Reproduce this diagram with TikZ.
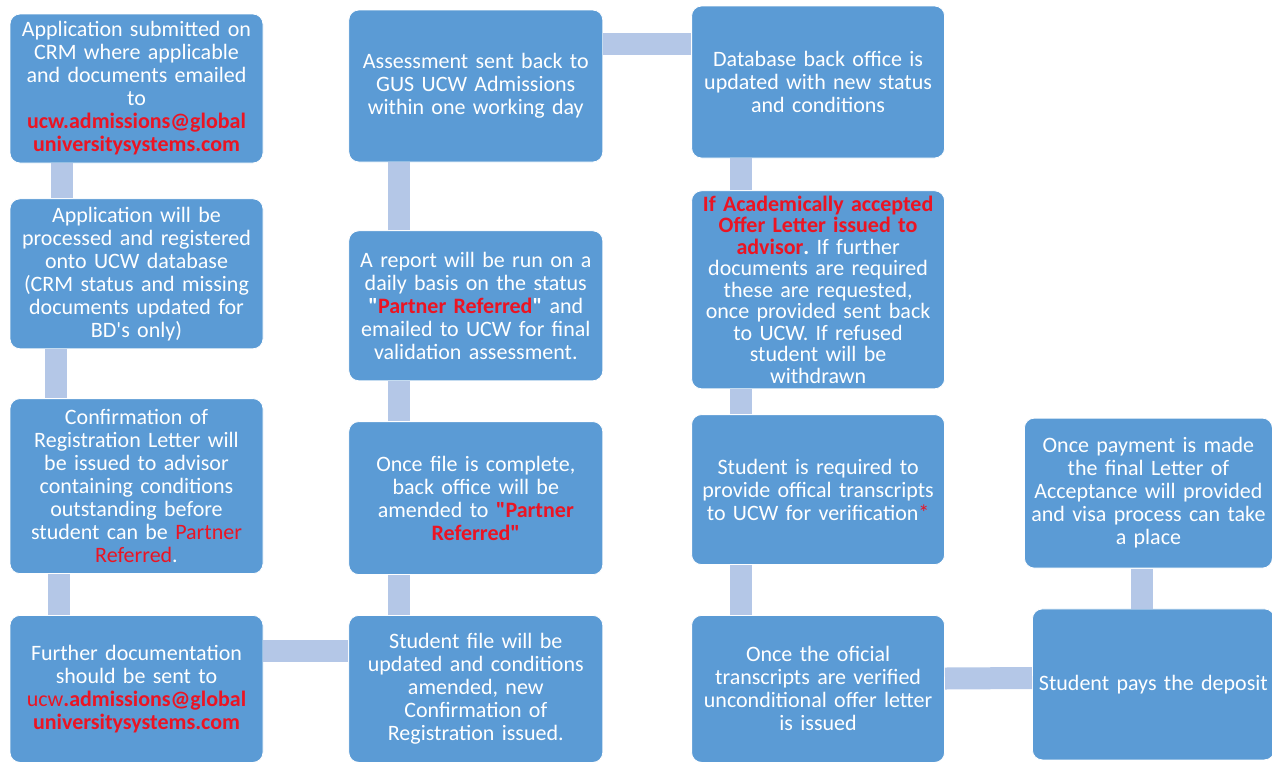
\documentclass[tikz,border=0pt]{standalone}
\usepackage{fontspec}
\setmainfont{Carlito}[Ligatures=TeXOff]
\usetikzlibrary{positioning}
\definecolor{boxblue}{RGB}{91,155,213}
\definecolor{barblue}{RGB}{180,199,231}
\definecolor{ucwred}{RGB}{235,20,35}
\newcommand{\redtxt}[1]{{\color{ucwred}#1}}

\begin{document}
\frenchspacing
\begin{tikzpicture}[x=1pt,y=1pt,
  box node/.style={rectangle,rounded corners=10pt,fill=boxblue,draw=white,line width=0.8pt,
    text=white,text width=247pt,align=center,inner sep=3pt,
    font=\fontsize{22}{23}\selectfont},
  link/.style={draw=barblue,line width=22pt}]
  \useasboundingbox (0,0) rectangle (1272,-761);

  % left column
  \node[box node,minimum height=149pt] (1) at (136.5,-88.5)
    {Application submitted on\\ CRM where applicable\\ and documents emailed\\ to\\
     {\color{ucwred}\bfseries ucw.admissions@global\\ universitysystems.com}};
  \node[box node,minimum height=150pt] (2) [below=35pt of 1]
    {Application will be\\ processed and registered\\ onto UCW database\\
     (CRM status and missing\\ documents updated for\\ BD's only)};
  \node[box node,minimum height=175pt] (3) [below=49pt of 2]
    {Confirmation of\\ Registration Letter will\\ be issued to advisor\\
     containing conditions\\ outstanding before\\ student can be \redtxt{Partner}\\
     \redtxt{Referred}.};
  \node[box node,minimum height=147pt] (4) [below=41pt of 3]
    {Further documentation\\ should be sent to\\
     {\color{ucwred}ucw\bfseries.admissions@global\\ universitysystems.com}};

  % middle column
  \node[box node,text width=248pt,minimum height=147pt] (5) [right=85pt of 4]
    {Student file will be\\ updated and conditions\\ amended, new\\ Confirmation of\\
     Registration issued.};
  \node[box node,text width=248pt,minimum height=153pt] (6) [above=40pt of 5]
    {Once file is complete,\\ back office will be\\
     amended to {\color{ucwred}\bfseries "Partner\\ Referred"}};
  \node[box node,text width=248pt,minimum height=150pt] (7) [above=40pt of 6]
    {A report will be run on a\\ daily basis on the status\\
     \textbf{"\redtxt{Partner Referred}"} and\\ emailed to UCW for final\\
     validation assessment.};
  \node[box node,text width=248pt,minimum height=152pt] (8) [above=68pt of 7]
    {Assessment sent back to\\ GUS UCW Admissions\\ within one working day};

  % right column
  \node[box node,minimum height=147pt] (12) [right=88pt of 5]
    {Once the oficial\\ transcripts are verified\\ unconditional offer letter\\ is issued};
  \node[box node,minimum height=150pt] (11) [above=50pt of 12]
    {Student is required to\\ provide offical transcripts\\
     to UCW for verification\redtxt{*}};
  \node[box node,minimum height=198pt,font=\fontsize{22}{21.5}\selectfont] (10) [above=25pt of 11]
    {{\color{ucwred}\bfseries If Academically accepted\\ Offer Letter issued to\\
     advisor}\textbf{.} If further\\ documents are required\\ these are requested,\\
     once provided sent back\\ to UCW. If refused\\ student will be\\ withdrawn};
  \node[box node,minimum height=152pt] (9) [above=32pt of 10]
    {Database back office is\\ updated with new status\\ and conditions};

  % far right
  \node[box node,text width=236pt,minimum height=151pt] (13) [right=87pt of 12,yshift=4.5pt]
    {Student pays the deposit};
  \node[box node,text width=242pt,minimum height=150pt] (14) [above=40pt of 13,xshift=-5pt]
    {Once payment is made\\ the final Letter of\\ Acceptance will provided\\
     and visa process can take\\ a place};

  \path
    ([xshift=52.5pt]1.south west) edge[link] ([xshift=52.5pt]2.north west)
    ([xshift=46.5pt]2.south west) edge[link] ([xshift=46.5pt]3.north west)
    ([xshift=49pt]3.south west) edge[link] ([xshift=49pt]4.north west)
    ([yshift=-35.5pt]4.north east) edge[link] ([yshift=-35.5pt]5.north west)
    ([xshift=51pt]5.north west) edge[link] ([xshift=51pt]6.south west)
    ([xshift=51pt]6.north west) edge[link] ([xshift=51pt]7.south west)
    ([xshift=51pt]7.north west) edge[link] ([xshift=51pt]8.south west)
    ([yshift=-34pt]8.north east) edge[link] ([yshift=-38pt]9.north west)
    ([xshift=50pt]9.south west) edge[link] ([xshift=50pt]10.north west)
    ([xshift=50pt]10.south west) edge[link] ([xshift=50pt]11.north west)
    ([xshift=50pt]11.south west) edge[link] ([xshift=50pt]12.north west)
    ([yshift=-63.5pt]12.north east) edge[link] ([yshift=-69.5pt]13.north west)
    ([xshift=110pt]13.north west) edge[link] ([xshift=118pt]14.south west);
\end{tikzpicture}
\end{document}
